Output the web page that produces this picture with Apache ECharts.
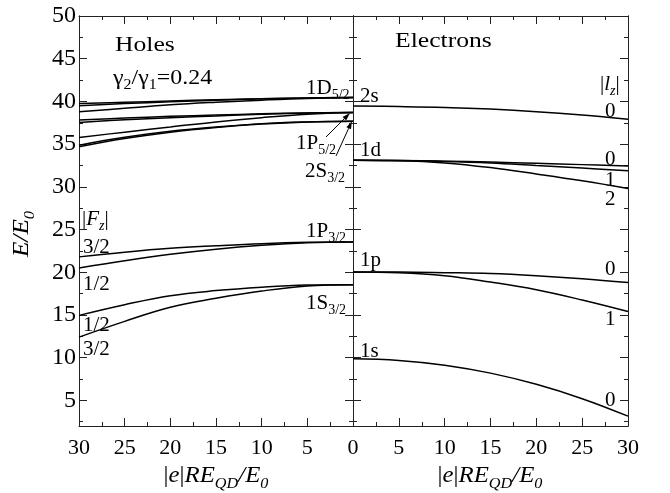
<!DOCTYPE html>
<html><head><meta charset="utf-8">
<script src="https://cdn.jsdelivr.net/npm/echarts@6/dist/echarts.min.js"></script>
<style>html,body{margin:0;padding:0;background:#fff}#c{width:670px;height:493px}</style>
</head><body><div id="c"></div>
<script>
// ---- data ----
const fieldX = [0, 5, 10, 15, 20, 25, 30];
// Holes (left panel)
const h1D52_a = [40.45, 40.4, 40.3, 40.2, 40.05, 39.9, 39.77];
const h1D52_b = [40.45, 40.4, 40.3, 40.15, 39.95, 39.75, 39.48];
const h1D52_c = [40.45, 40.35, 40.15, 39.9, 39.6, 39.2, 38.78];
const h1P52_a = [38.7, 38.65, 38.55, 38.4, 38.25, 38.05, 37.81];
const h1P52_b = [38.7, 38.65, 38.5, 38.3, 38.1, 37.85, 37.54];
const h1P52_c = [38.7, 38.5, 38.1, 37.6, 37.0, 36.4, 35.78];
const h2S32_a = [37.69, 37.6, 37.4, 37.0, 36.5, 35.8, 34.88];
const h2S32_b = [37.69, 37.6, 37.35, 36.95, 36.4, 35.65, 34.68];
const h1P32_32 = [23.54, 23.5, 23.35, 23.1, 22.8, 22.35, 21.8];
const h1P32_12 = [23.54, 23.45, 23.15, 22.7, 22.1, 21.35, 20.5];
const h1S32_12 = [18.55, 18.5, 18.25, 17.85, 17.25, 16.2, 14.95];
const h1S32_32 = [18.55, 18.4, 17.8, 16.95, 15.9, 14.25, 12.4];
// Electrons (right panel)
const e2s_0 = [39.45, 39.4, 39.3, 39.1, 38.8, 38.4, 37.9];
const e1d_0 = [33.1, 33.08, 33.0, 32.9, 32.75, 32.6, 32.45];
const e1d_1 = [33.1, 33.07, 32.98, 32.8, 32.5, 32.2, 31.87];
const e1d_2 = [33.1, 33.05, 32.8, 32.25, 31.5, 30.7, 29.8];
const e1p_0 = [20.03, 20.02, 19.95, 19.85, 19.6, 19.25, 18.8];
const e1p_1 = [20.03, 19.95, 19.6, 18.85, 17.95, 16.75, 15.4];
const e1s_0 = [9.87, 9.68, 9.12, 8.19, 6.88, 5.2, 3.15];
// axis ticks
const yMajor = [5, 10, 15, 20, 25, 30, 35, 40, 45, 50];
const yMinor = [2.5, 7.5, 12.5, 17.5, 22.5, 27.5, 32.5, 37.5, 42.5, 47.5];

const holeSeries = [h1D52_a, h1D52_b, h1D52_c, h1P52_a, h1P52_b, h1P52_c, h2S32_a, h2S32_b, h1P32_32, h1P32_12, h1S32_12, h1S32_32];
const elecSeries = [e2s_0, e1d_0, e1d_1, e1d_2, e1p_0, e1p_1, e1s_0];

const FONT = "'Liberation Serif', 'Times New Roman', serif";
const AX = '#222';

function pairs(ys) { return fieldX.map((x, i) => [x, ys[i]]); }

function mkRich(fs) {
  const ss = Math.round(fs * 0.66);
  return {
    b: { fontFamily: FONT, fontSize: fs, lineHeight: fs, verticalAlign: 'top', color: '#000' },
    i: { fontFamily: FONT, fontSize: fs, lineHeight: fs, verticalAlign: 'top', fontStyle: 'italic', color: '#000' },
    s: { fontFamily: FONT, fontSize: ss, lineHeight: ss, verticalAlign: 'top', padding: [Math.round(fs * 0.52), 0, 0, 0], color: '#000' },
    si: { fontFamily: FONT, fontSize: ss, lineHeight: ss, verticalAlign: 'top', fontStyle: 'italic', padding: [Math.round(fs * 0.52), 0, 0, 0], color: '#000' }
  };
}
const rich21 = mkRich(21);
const rich23 = mkRich(23);

function xAx(grid, pos, inverse, labels) {
  return {
    type: 'value', gridIndex: grid, position: pos, min: 0, max: 30, interval: 5, inverse: inverse,
    axisLine: { show: true, onZero: false, lineStyle: { color: AX, width: 1 } },
    axisTick: { show: true, inside: true, length: 8, lineStyle: { color: AX } },
    minorTick: { show: true, splitNumber: 2, length: 4, lineStyle: { color: AX } },
    splitLine: { show: false },
    axisLabel: labels ? {
      show: true, margin: 11, fontFamily: FONT, fontSize: 22, color: '#000',
      formatter: v => (inverse && v === 0) ? '' : String(v)
    } : { show: false }
  };
}
function yAx(grid, pos, minor, labels) {
  return {
    type: 'value', gridIndex: grid, position: pos, min: 2, max: 50,
    axisLine: { show: true, onZero: false, lineStyle: { color: AX, width: 1 } },
    axisTick: { show: true, inside: true, length: minor ? 4 : 8, customValues: minor ? yMinor : yMajor, lineStyle: { color: AX } },
    splitLine: { show: false },
    axisLabel: labels ? { show: true, margin: 3, fontFamily: FONT, fontSize: 24, color: '#000', customValues: yMajor } : { show: false }
  };
}

const series = [];
holeSeries.forEach(d => series.push({
  type: 'line', xAxisIndex: 0, yAxisIndex: 0, data: pairs(d), smooth: 0.4, showSymbol: false,
  lineStyle: { color: '#000', width: 1.5 }, silent: true, animation: false
}));
elecSeries.forEach(d => series.push({
  type: 'line', xAxisIndex: 2, yAxisIndex: 4, data: pairs(d), smooth: 0.4, showSymbol: false,
  lineStyle: { color: '#000', width: 1.5 }, silent: true, animation: false
}));

function lbl(x, y, text, sx, opt) {
  opt = opt || {};
  return { type: 'text', x: x, y: y, scaleX: sx || 1, rotation: opt.rot || 0, silent: true,
    style: { text: text, rich: opt.rich || rich21, align: opt.align || 'left', verticalAlign: 'middle', fill: '#000', font: '21px ' + FONT } };
}
function arrow(x1, y1, x2, y2) {
  const a = Math.atan2(y2 - y1, x2 - x1), L = 8, W = 2.5;
  const bx = x2 - L * Math.cos(a), by = y2 - L * Math.sin(a);
  const px = -Math.sin(a) * W, py = Math.cos(a) * W;
  return [
    { type: 'line', silent: true, shape: { x1: x1, y1: y1, x2: bx, y2: by }, style: { stroke: '#000', lineWidth: 1 } },
    { type: 'polygon', silent: true, shape: { points: [[x2, y2], [bx + px, by + py], [bx - px, by - py]] }, style: { fill: '#000' } }
  ];
}

const xName = '{b||}{i|e}{b||}{i|RE}{si|QD}{i|/E}{si|0}';
const graphics = [
  lbl(115, 45, '{b|Holes}', 1.22),
  lbl(113, 78, '{b|γ}{s|2}{b|/γ}{s|1}{b|=0.24}', 1.14),
  lbl(306, 88, '{b|1D}{s|5/2}'),
  lbl(296, 143, '{b|1P}{s|5/2}'),
  lbl(305, 171, '{b|2S}{s|3/2}'),
  lbl(82, 219, '{b||}{i|F}{si|z}{b||}'),
  lbl(83, 247, '{b|3/2}'),
  lbl(306, 231, '{b|1P}{s|3/2}'),
  lbl(83, 284, '{b|1/2}'),
  lbl(83, 325, '{b|1/2}'),
  lbl(83, 349, '{b|3/2}'),
  lbl(306, 303, '{b|1S}{s|3/2}'),
  lbl(395, 41, '{b|Electrons}', 1.22),
  lbl(360, 96, '{b|2s}'),
  lbl(600, 84, '{b||}{i|l}{si|z}{b||}'),
  lbl(605, 111, '{b|0}'),
  lbl(360, 150, '{b|1d}'),
  lbl(605, 159, '{b|0}'),
  lbl(605, 180, '{b|1}'),
  lbl(605, 199, '{b|2}'),
  lbl(360, 260, '{b|1p}'),
  lbl(605, 269, '{b|0}'),
  lbl(605, 319, '{b|1}'),
  lbl(360, 351, '{b|1s}'),
  lbl(605, 400, '{b|0}'),
  lbl(216, 476, xName, 1.08, { align: 'center', rich: rich23 }),
  lbl(490, 476, xName, 1.08, { align: 'center', rich: rich23 }),
  lbl(22, 234, '{i|E/E}{si|0}', 1.1, { align: 'center', rot: Math.PI / 2, rich: rich23 })
].concat(arrow(326, 137, 350, 113), arrow(336, 156, 352, 121));

const chart = echarts.init(document.getElementById('c'), null, { renderer: 'canvas' });
chart.setOption({
  animation: false,
  backgroundColor: '#fff',
  grid: [
    { left: 79, right: 317, top: 16, bottom: 67, containLabel: false },
    { left: 353, right: 42, top: 16, bottom: 67, containLabel: false }
  ],
  xAxis: [xAx(0, 'bottom', true, true), xAx(0, 'top', true, false), xAx(1, 'bottom', false, true), xAx(1, 'top', false, false)],
  yAxis: [
    yAx(0, 'left', false, true), yAx(0, 'left', true, false),
    yAx(0, 'right', false, false), yAx(0, 'right', true, false),
    yAx(1, 'left', false, false), yAx(1, 'left', true, false),
    yAx(1, 'right', false, false), yAx(1, 'right', true, false)
  ],
  series: series,
  graphic: graphics
});
</script></body></html>
